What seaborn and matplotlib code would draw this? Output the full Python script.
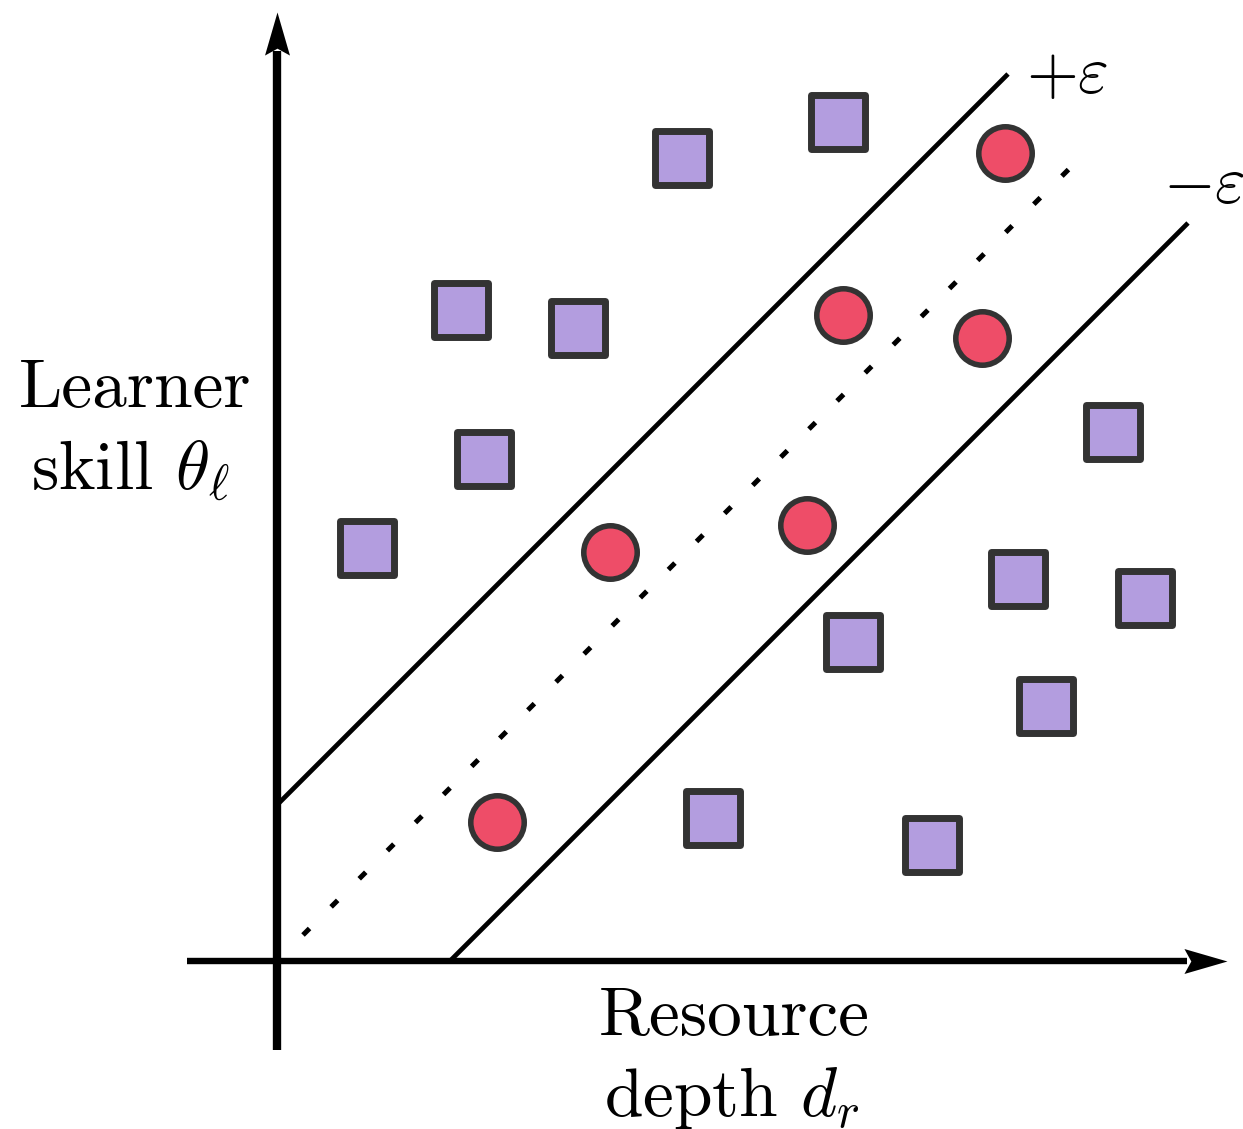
import numpy as np
import pandas as pd
import seaborn as sns
import matplotlib.pyplot as plt
from matplotlib.path import Path

# points inside the epsilon tube (learner/resource matches)
in_x = [7.28, 5.66, 7.05, 3.33, 5.30, 2.20]
in_y = [8.08, 6.46, 6.23, 4.09, 4.36, 1.39]

# points outside the tube
out_x = [4.05, 5.61, 1.84, 3.01, 2.07, 0.90, 8.36, 7.41, 8.68, 5.76, 7.69, 4.36, 6.55]
out_y = [8.03, 8.39, 6.51, 6.33, 5.02, 4.13, 5.29, 3.82, 3.63, 3.19, 2.55, 1.43, 1.16]

eps_plus = 1.56
eps_minus = 1.73

sns.set_theme(style='white')
plt.rcParams['font.family'] = 'serif'
plt.rcParams['font.serif'] = ['cmr10']
plt.rcParams['mathtext.fontset'] = 'cm'
plt.rcParams['axes.unicode_minus'] = False
plt.rcParams['text.color'] = 'black'

df_in = pd.DataFrame({'x': in_x, 'y': in_y})
df_out = pd.DataFrame({'x': out_x, 'y': out_y})

fig = plt.figure(figsize=(12.43, 11.29), dpi=100)
ax = fig.add_axes([0, 0, 1, 1])
ax.set_xlim(-2.77, 9.66)
ax.set_ylim(-1.68, 9.61)
ax.axis('off')

# tube lines
ax.plot([0, 7.31], [eps_plus, 7.31 + eps_plus], color='black', lw=3.4, solid_capstyle='butt')
ax.plot([eps_minus, 9.11], [0, 9.11 - eps_minus], color='black', lw=3.4, solid_capstyle='butt')
ax.plot([0.26, 7.98], [0.26, 7.98], color='black', lw=3.6, linestyle=(0, (1.85, 6.1)))

# axes with stealth arrow heads
ax.plot([0, 0], [-0.89, 9.1], color='black', lw=6, solid_capstyle='butt')
ax.plot([-0.9, 9.1], [0, 0], color='black', lw=4.6, solid_capstyle='butt')

def stealth(angle):
    v = np.array([[0, 0], [-0.29, -1], [0, -0.84], [0.29, -1], [0, 0]])
    a = np.deg2rad(angle)
    r = np.array([[np.cos(a), -np.sin(a)], [np.sin(a), np.cos(a)]])
    return Path(v @ r.T, [Path.MOVETO, Path.LINETO, Path.LINETO, Path.LINETO, Path.CLOSEPOLY])

ax.plot([0], [9.49], marker=stealth(0), markersize=62, color='black', markeredgewidth=0)
ax.plot([9.50], [0], marker=stealth(-90), markersize=62, color='black', markeredgewidth=0)

sns.scatterplot(data=df_out, x='x', y='y', marker='s', s=1560, color='#b39ddf',
                edgecolor='#333333', linewidth=5, ax=ax, zorder=3)
sns.scatterplot(data=df_in, x='x', y='y', marker='o', s=1480, color='#ee4d68',
                edgecolor='#333333', linewidth=4, ax=ax, zorder=3)

fs = 50
ax.text(-2.58, 5.54, 'Learner', fontsize=fs, ha='left', va='baseline')
ax.text(-2.46, 4.72, r'skill $\theta_\ell$', fontsize=fs, ha='left', va='baseline')
ax.text(3.22, -0.74, 'Resource', fontsize=fs, ha='left', va='baseline')
ax.text(3.27, -1.55, r'depth $d_r$', fontsize=fs, ha='left', va='baseline')
ax.text(7.49, 8.68, r'$+\varepsilon$', fontsize=48, ha='left', va='baseline')
ax.text(8.86, 7.58, r'$-\varepsilon$', fontsize=48, ha='left', va='baseline')

ax.set_xlabel('')
ax.set_ylabel('')
fig.savefig('out.png', dpi=100)
